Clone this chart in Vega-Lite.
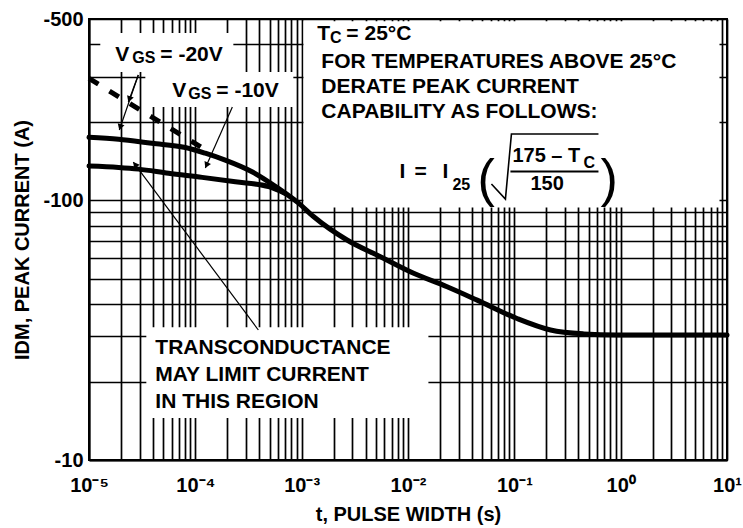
{
  "$schema": "https://vega.github.io/schema/vega-lite/v6.json",
  "width": 638,
  "height": 441,
  "autosize": {"type": "none"},
  "padding": {"left": 89, "top": 19, "right": 16, "bottom": 68},
  "background": "white",
  "config": {
    "view": {"stroke": "black", "strokeWidth": 2},
    "font": "Liberation Sans"
  },
  "datasets": {
    "curves": [
      {"series": "VGS=-20V", "t": 0.00001, "I": -175},
      {"series": "VGS=-20V", "t": 0.000019, "I": -172},
      {"series": "VGS=-20V", "t": 0.000039, "I": -166},
      {"series": "VGS=-20V", "t": 0.0000805, "I": -160},
      {"series": "VGS=-20V", "t": 0.000124, "I": -152},
      {"series": "VGS=-20V", "t": 0.000191, "I": -143},
      {"series": "VGS=-20V", "t": 0.000341, "I": -129},
      {"series": "VGS=-20V", "t": 0.000608, "I": -111},
      {"series": "VGS=-20V", "t": 0.00093, "I": -97.8},
      {"series": "VGS=-20V", "t": 0.0013, "I": -86.5},
      {"series": "VGS=-20V", "t": 0.00267, "I": -70.4},
      {"series": "VGS=-20V", "t": 0.0055, "I": -60.7},
      {"series": "VGS=-20V", "t": 0.0113, "I": -52.4},
      {"series": "VGS=-20V", "t": 0.0233, "I": -46.5},
      {"series": "VGS=-20V", "t": 0.0447, "I": -41.3},
      {"series": "VGS=-20V", "t": 0.106, "I": -35.1},
      {"series": "VGS=-20V", "t": 0.219, "I": -31.7},
      {"series": "VGS=-20V", "t": 0.45, "I": -30.6},
      {"series": "VGS=-20V", "t": 0.927, "I": -30.3},
      {"series": "VGS=-20V", "t": 10, "I": -30.3},
      {"series": "VGS=-10V", "t": 0.00001, "I": -135.7},
      {"series": "VGS=-10V", "t": 0.000019, "I": -134},
      {"series": "VGS=-10V", "t": 0.0000293, "I": -132},
      {"series": "VGS=-10V", "t": 0.000056, "I": -127.2},
      {"series": "VGS=-10V", "t": 0.000116, "I": -122.7},
      {"series": "VGS=-10V", "t": 0.000238, "I": -118},
      {"series": "VGS=-10V", "t": 0.00049, "I": -113},
      {"series": "VGS=-10V", "t": 0.0007, "I": -106.4},
      {"series": "limit", "t": 0.00001, "I": -295},
      {"series": "limit", "t": 0.00012, "I": -158}
    ],
    "boxes": [
      {"box": "note", "t": 0.00104, "t2": 8.5, "I": -94, "I2": -490},
      {"box": "vgs20", "t": 0.00001277, "t2": 0.0002278, "I": -312.4, "I2": -441.5},
      {"box": "vgs10", "t": 0.00003386, "t2": 0.000835, "I": -229, "I2": -312.4},
      {"box": "transconductance", "t": 0.0000346, "t2": 0.01556, "I": -14.5, "I2": -32.5}
    ],
    "arrows": [
      {"arrow": "A1", "t": 0.00002909, "I": -304.1, "t2": 0.00001928, "I2": -186.7},
      {"arrow": "A2", "t": 0.00002909, "I": -304.1, "t2": 0.00002343, "I2": -239.3},
      {"arrow": "B", "t": 0.0002229, "I": -229, "t2": 0.0001242, "I2": -133.3},
      {"arrow": "C", "t": 0.0003915, "I": -31.68, "t2": 0.0000261, "I2": -140.6}
    ],
    "heads": [
      {"arrow": "A1", "t": 0.00001978, "I": -193.2},
      {"arrow": "A2", "t": 0.00002415, "I": -247.4},
      {"arrow": "B", "t": 0.0001285, "I": -137.7},
      {"arrow": "C", "t": 0.00002749, "I": -136.6}
    ],
    "radical": [
      {"k": 1, "t": 0.0609, "I": -115.7},
      {"k": 2, "t": 0.08245, "I": -101.2},
      {"k": 3, "t": 0.0939, "I": -180.3},
      {"k": 4, "t": 0.6183, "I": -180.3}
    ],
    "fraction": [
      {"t": 0.0919, "t2": 0.6183, "I": -129.2}
    ],
    "textMain": [
      {"t": 0.001405, "I": -415, "label": "T"},
      {"t": 0.002633, "I": -415, "label": "= 25°C"},
      {"t": 0.001532, "I": -323.6, "label": "FOR TEMPERATURES ABOVE 25°C"},
      {"t": 0.001532, "I": -259.3, "label": "DERATE PEAK CURRENT"},
      {"t": 0.001532, "I": -207.7, "label": "CAPABILITY AS FOLLOWS:"},
      {"t": 0.0083, "I": -122, "label": "I"},
      {"t": 0.01149, "I": -122, "label": "="},
      {"t": 0.02108, "I": -122, "label": "I"},
      {"t": 0.00001768, "I": -344.4, "label": "V"},
      {"t": 0.00004685, "I": -344.4, "label": "= -20V"},
      {"t": 0.00006075, "I": -250.2, "label": "V"},
      {"t": 0.0001576, "I": -250.2, "label": "= -10V"},
      {"t": 0.00004205, "I": -25.6, "label": "TRANSCONDUCTANCE"},
      {"t": 0.00004205, "I": -20.15, "label": "MAY LIMIT CURRENT"},
      {"t": 0.00004205, "I": -15.86, "label": "IN THIS REGION"}
    ],
    "textFrac": [
      {"t": 0.096, "I": -140.6, "label": "175 – T"},
      {"t": 0.1417, "I": -109.7, "label": "150"}
    ],
    "textSub": [
      {"t": 0.001842, "I": -404, "label": "C"},
      {"t": 0.00002555, "I": -338.3, "label": "GS"},
      {"t": 0.0000859, "I": -245.8, "label": "GS"},
      {"t": 0.02617, "I": -109.7, "label": "25"},
      {"t": 0.4467, "I": -133.3, "label": "C"}
    ],
    "textParen": [
      {"t": 0.045, "I": -104, "label": "("},
      {"t": 0.6457, "I": -104, "label": ")"}
    ]
  },
  "encoding": {
    "x": {
      "field": "t",
      "type": "quantitative",
      "scale": {"type": "log", "domain": [0.00001, 10], "nice": false},
      "axis": {
        "values": [0.00001, 0.00002, 0.00003, 0.00004, 0.00005, 0.00006, 0.00007, 0.00008, 0.00009,
                   0.0001, 0.0002, 0.0003, 0.0004, 0.0005, 0.0006, 0.0007, 0.0008, 0.0009,
                   0.001, 0.002, 0.003, 0.004, 0.005, 0.006, 0.007, 0.008, 0.009,
                   0.01, 0.02, 0.03, 0.04, 0.05, 0.06, 0.07, 0.08, 0.09,
                   0.1, 0.2, 0.3, 0.4, 0.5, 0.6, 0.7, 0.8, 0.9,
                   1, 2, 3, 4, 5, 6, 7, 8, 9, 10],
        "labelExpr": "datum.value == 0.00001 ? '10⁻⁵' : datum.value == 0.0001 ? '10⁻⁴' : datum.value == 0.001 ? '10⁻³' : datum.value == 0.01 ? '10⁻²' : datum.value == 0.1 ? '10⁻¹' : datum.value == 1 ? '10⁰' : datum.value == 10 ? '10¹' : ''",
        "title": "t, PULSE WIDTH (s)",
        "grid": true,
        "gridColor": "black",
        "gridWidth": 1.7,
        "gridOpacity": 1,
        "ticks": false,
        "domain": true,
        "domainColor": "black",
        "domainWidth": 2,
        "labelFont": "Liberation Sans",
        "labelFontWeight": "bold",
        "labelFontSize": 20,
        "labelColor": "black",
        "labelPadding": 15,
        "labelFlush": false,
        "labelOverlap": false,
        "labelBound": false,
        "titleFont": "Liberation Sans",
        "titleFontSize": 20,
        "titleFontWeight": "bold",
        "titleColor": "black",
        "titleY": 60,
        "titleBaseline": "alphabetic"
      }
    },
    "y": {
      "field": "I",
      "type": "quantitative",
      "scale": {"type": "log", "domain": [-10, -500], "nice": false, "zero": false},
      "axis": {
        "values": [-10, -20, -30, -40, -50, -60, -70, -80, -90, -100, -200, -300, -400, -500],
        "labelExpr": "datum.value == -500 ? '-500' : datum.value == -100 ? '-100' : datum.value == -10 ? '-10' : ''",
        "title": "IDM, PEAK CURRENT (A)",
        "grid": true,
        "gridColor": "black",
        "gridWidth": 1.7,
        "gridOpacity": 1,
        "ticks": false,
        "domain": true,
        "domainColor": "black",
        "domainWidth": 2,
        "labelFont": "Liberation Sans",
        "labelFontWeight": "bold",
        "labelFontSize": 20,
        "labelColor": "black",
        "labelPadding": 6,
        "labelFlush": false,
        "labelOverlap": false,
        "labelBound": false,
        "titleFont": "Liberation Sans",
        "titleFontSize": 20,
        "titleFontWeight": "bold",
        "titleColor": "black",
        "titleX": -61,
        "titleBaseline": "alphabetic"
      }
    }
  },
  "layer": [
    {
      "data": {"name": "boxes"},
      "mark": {"type": "rect", "fill": "white", "stroke": null},
      "encoding": {"x2": {"field": "t2"}, "y2": {"field": "I2"}}
    },
    {
      "data": {"name": "curves"},
      "transform": [{"filter": "datum.series != 'limit'"}],
      "mark": {"type": "line", "color": "black", "strokeWidth": 5, "interpolate": "monotone", "strokeCap": "round"},
      "encoding": {"detail": {"field": "series"}}
    },
    {
      "data": {"name": "curves"},
      "transform": [{"filter": "datum.series == 'limit'"}],
      "mark": {"type": "line", "color": "black", "strokeWidth": 5, "strokeDash": [11, 13]},
      "encoding": {"detail": {"field": "series"}}
    },
    {
      "data": {"name": "arrows"},
      "mark": {"type": "rule", "color": "black", "strokeWidth": 1.2},
      "encoding": {"x2": {"field": "t2"}, "y2": {"field": "I2"}}
    },
    {
      "data": {"name": "heads"},
      "transform": [{"filter": "datum.arrow == 'A1'"}],
      "mark": {"type": "point", "shape": "triangle", "filled": true, "color": "black", "size": 50, "angle": 198, "opacity": 1},
      "encoding": {}
    },
    {
      "data": {"name": "heads"},
      "transform": [{"filter": "datum.arrow == 'A2'"}],
      "mark": {"type": "point", "shape": "triangle", "filled": true, "color": "black", "size": 50, "angle": 200, "opacity": 1},
      "encoding": {}
    },
    {
      "data": {"name": "heads"},
      "transform": [{"filter": "datum.arrow == 'B'"}],
      "mark": {"type": "point", "shape": "triangle", "filled": true, "color": "black", "size": 50, "angle": 204, "opacity": 1},
      "encoding": {}
    },
    {
      "data": {"name": "heads"},
      "transform": [{"filter": "datum.arrow == 'C'"}],
      "mark": {"type": "point", "shape": "triangle", "filled": true, "color": "black", "size": 50, "angle": 323, "opacity": 1},
      "encoding": {}
    },
    {
      "data": {"name": "radical"},
      "mark": {"type": "line", "color": "black", "strokeWidth": 1.6},
      "encoding": {"order": {"field": "k"}}
    },
    {
      "data": {"name": "fraction"},
      "mark": {"type": "rule", "color": "black", "strokeWidth": 2},
      "encoding": {"x2": {"field": "t2"}}
    },
    {
      "data": {"name": "textMain"},
      "mark": {"type": "text", "align": "left", "baseline": "alphabetic", "font": "Liberation Sans", "fontWeight": "bold", "fontSize": 21, "color": "black"},
      "encoding": {"text": {"field": "label"}}
    },
    {
      "data": {"name": "textFrac"},
      "mark": {"type": "text", "align": "left", "baseline": "alphabetic", "font": "Liberation Sans", "fontWeight": "bold", "fontSize": 20, "color": "black"},
      "encoding": {"text": {"field": "label"}}
    },
    {
      "data": {"name": "textSub"},
      "mark": {"type": "text", "align": "left", "baseline": "alphabetic", "font": "Liberation Sans", "fontWeight": "bold", "fontSize": 16, "color": "black"},
      "encoding": {"text": {"field": "label"}}
    },
    {
      "data": {"name": "textParen"},
      "mark": {"type": "text", "align": "left", "baseline": "alphabetic", "font": "Liberation Sans", "fontWeight": "normal", "fontSize": 52, "color": "black"},
      "encoding": {"text": {"field": "label"}}
    }
  ]
}
